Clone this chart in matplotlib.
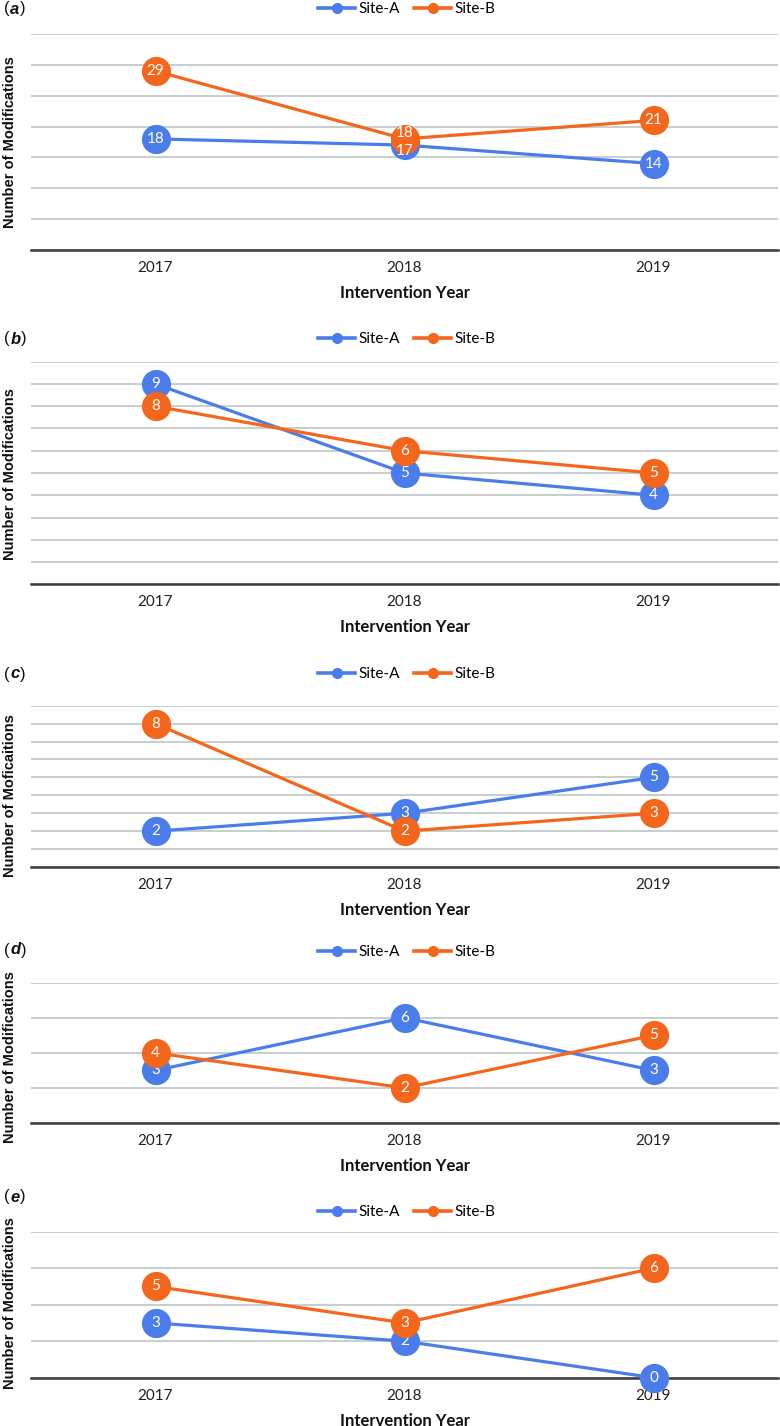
import matplotlib
matplotlib.use('Agg')
import matplotlib.pyplot as plt
from matplotlib.lines import Line2D
import numpy as np

# ---------------- data ----------------
years = ['2017', '2018', '2019']
series_names = ['Site-A', 'Site-B']

a_site_a = [18, 17, 14]
a_site_b = [29, 18, 21]
b_site_a = [9, 5, 4]
b_site_b = [8, 6, 5]
c_site_a = [2, 3, 5]
c_site_b = [8, 2, 3]
d_site_a = [3, 6, 3]
d_site_b = [4, 2, 5]
e_site_a = [3, 2, 0]
e_site_b = [5, 3, 6]

panel_letters = ['a', 'b', 'c', 'd', 'e']
y_titles = ['Number of Modifications', 'Number of Modifications',
            'Number of Moficaitions', 'Number of Modifications',
            'Number of Modifications']
x_title = 'Intervention Year'
y_max = [35, 10, 9, 8, 8]
y_step = [5, 1, 1, 2, 2]

panels = [(a_site_a, a_site_b), (b_site_a, b_site_b), (c_site_a, c_site_b),
          (d_site_a, d_site_b), (e_site_a, e_site_b)]

# ---------------- style / layout ----------------
W, H = 780, 1426
DPI = 100
BLUE = '#4a7deb'
ORANGE = '#f4661c'
GRID = '#c3cbca'
BASE = '#3c3c3c'
CAL = ['Lato', 'DejaVu Sans']
SANS = ['Liberation Sans', 'DejaVu Sans']

# pixel layout: (top gridline y, baseline y, legend y, letter y, ylabel center y)
layout = [
    (34, 250, 9, 9, 142),
    (361.7, 584.3, 339, 339, 474),
    (705.7, 867, 674, 674, 796),
    (982.7, 1123, 952, 950, 1057),
    (1231.7, 1377.7, 1212, 1197, 1303),
]
AX_LEFT, AX_RIGHT = 31, 778

fig = plt.figure(figsize=(W / DPI, H / DPI), dpi=DPI)

for i, ((sa, sb), (top, bot, leg_y, let_y, yl_y)) in enumerate(zip(panels, layout)):
    ax = fig.add_axes([AX_LEFT / W, 1 - bot / H, (AX_RIGHT - AX_LEFT) / W, (bot - top) / H])
    x = np.arange(len(years))
    ax.set_xlim(-0.5, len(years) - 0.5)
    ax.set_ylim(0, y_max[i])
    ax.set_yticks(np.arange(0, y_max[i] + 0.001, y_step[i]))
    ax.set_yticklabels([])
    ax.tick_params(axis='y', length=0)
    ax.grid(axis='y', color=GRID, linewidth=1.3)
    ax.set_axisbelow(True)
    for s in ['top', 'right', 'left']:
        ax.spines[s].set_visible(False)
    ax.spines['bottom'].set_color(BASE)
    ax.spines['bottom'].set_linewidth(1.8)
    ax.spines['bottom'].set_zorder(1.5)

    ax.set_xticks(x)
    ax.set_xticklabels(years, family=CAL, fontsize=11, color='#222222')
    ax.tick_params(axis='x', length=0, pad=8)

    ax.set_xlabel(x_title, family=CAL, fontsize=12, fontweight='bold', color='#111111')
    hpx = bot - top
    ax.xaxis.set_label_coords(0.5, -43 / hpx)
    ax.xaxis.label.set_va('center')

    px_per_unit = hpx / y_max[i]

    base_z = 3
    for k, (vals, col) in enumerate(zip((sa, sb), (BLUE, ORANGE))):
        ax.plot(x, vals, color=col, linewidth=2.3, marker='o', markersize=21,
                markeredgewidth=0, clip_on=False, zorder=base_z + 3 * k,
                solid_capstyle='round')
        other = sb if k == 0 else sa
        for j, v in enumerate(vals):
            dy_px = (v - other[j]) * px_per_unit
            off = 0
            z = base_z + 3 * k + 1
            if abs(dy_px) < 14:
                sign = 1 if (v > other[j] or (v == other[j] and k == 1)) else -1
                off = sign * 6
                z = 20
            ax.annotate(str(v), (x[j], v), xytext=(0, off * 72 / DPI), textcoords='offset points',
                        ha='center', va='center', color='white', fontsize=11,
                        family=CAL, zorder=z, annotation_clip=False)

    handles = [Line2D([], [], color=c, linewidth=2.6, marker='o', markersize=7)
               for c in (BLUE, ORANGE)]
    ax.legend(handles, series_names, loc='center', ncol=2, frameon=False,
              bbox_to_anchor=(407 / W, 1 - leg_y / H), bbox_transform=fig.transFigure,
              prop={'family': CAL, 'size': 11}, handlelength=2.4,
              handletextpad=0.25, columnspacing=0.9, borderaxespad=0, borderpad=0)

    # y axis title
    fig.text(10 / W, 1 - yl_y / H, y_titles[i], rotation=90, ha='center', va='center',
             family=SANS, fontsize=10.5, fontweight='bold', color='#111111')

    # panel letter "(a)"
    t1 = fig.text(4 / W, 1 - let_y / H, '(', ha='left', va='center', family=SANS,
                  fontsize=12, color='#111111')
    an2 = ax.annotate(panel_letters[i], xy=(1, 0.5), xycoords=t1, xytext=(0.5, 0),
                      textcoords='offset points', ha='left', va='center', family=SANS,
                      fontsize=12, fontweight='bold', style='italic', color='#111111',
                      annotation_clip=False)
    ax.annotate(')', xy=(1, 0.5), xycoords=an2, xytext=(0.5, 0), textcoords='offset points',
                ha='left', va='center', family=SANS, fontsize=12, color='#111111',
                annotation_clip=False)

fig.savefig('out.png', dpi=DPI)
